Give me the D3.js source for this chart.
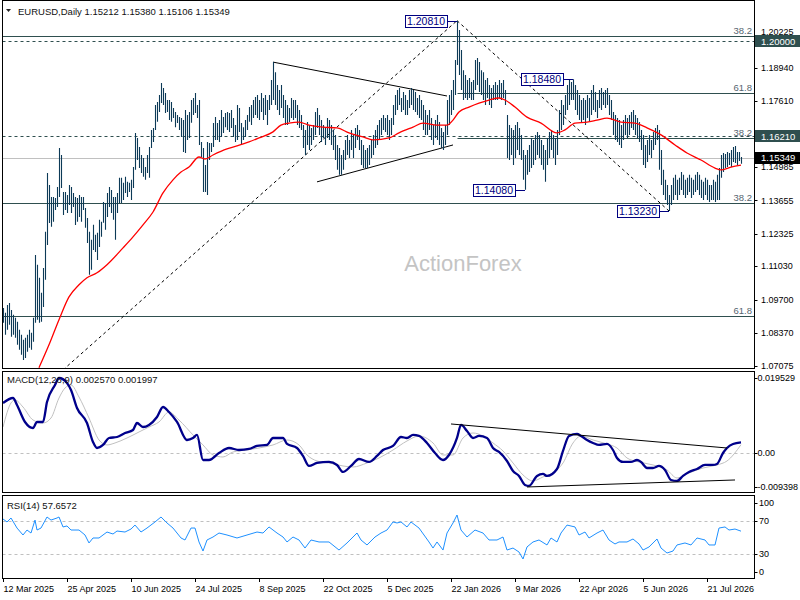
<!DOCTYPE html>
<html lang="en">

<head>
	<meta charset="UTF-8">
	<script src="https://cdn.jsdelivr.net/npm/d3@7"></script>
	<title>EURUSD Daily</title>
	<style>
		body {
			margin: 0;
			background: #fff;
		}

		text {
			font-family: "Liberation Sans", Arial, sans-serif;
		}
	</style>
</head>

<body>
	<svg id="chart" width="800" height="600"></svg>

	<script>
		// daily bar highs and lows, first bar 12 Mar 2025
		const highs = [
			1.0937, 1.0918, 1.0949, 1.0957, 1.0929, 1.0910, 1.0898, 1.0882, 1.0850, 1.0830, 1.0810, 1.0818, 1.0830, 1.0850, 1.0838, 1.0898,
			1.1148, 1.1109, 1.1057, 1.0997, 1.1096, 1.1240, 1.1474, 1.1427, 1.1379, 1.1379,
			1.1375, 1.1419, 1.1574, 1.1546, 1.1399, 1.1399, 1.1387, 1.1427, 1.1419, 1.1395,
			1.1379, 1.1375, 1.1387, 1.1379, 1.1379, 1.1335, 1.1295, 1.1240, 1.1208, 1.1268,
			1.1228, 1.1236, 1.1288, 1.1280, 1.1359, 1.1355, 1.1395, 1.1419, 1.1407, 1.1379,
			1.1379, 1.1395, 1.1455, 1.1455, 1.1435, 1.1459, 1.1439, 1.1435, 1.1447, 1.1498,
			1.1634, 1.1614, 1.1578, 1.1546, 1.1534, 1.1498, 1.1546, 1.1578, 1.1646, 1.1654,
			1.1745, 1.1757, 1.1785, 1.1833, 1.1813, 1.1793, 1.1765, 1.1765, 1.1757, 1.1733,
			1.1717, 1.1705, 1.1697, 1.1693, 1.1685, 1.1725, 1.1705, 1.1717, 1.1765, 1.1773,
			1.1793, 1.1745, 1.1765, 1.1598, 1.1574, 1.1506, 1.1598, 1.1594, 1.1594, 1.1673,
			1.1697, 1.1673, 1.1685, 1.1725, 1.1697, 1.1713, 1.1717, 1.1713, 1.1725, 1.1693,
			1.1665, 1.1745, 1.1733, 1.1673, 1.1657, 1.1685, 1.1705, 1.1737,
			1.1745, 1.1765, 1.1777, 1.1785, 1.1765, 1.1793, 1.1773, 1.1785, 1.1765, 1.1785,
			1.1845, 1.1916, 1.1876, 1.1825, 1.1805, 1.1825, 1.1785, 1.1765, 1.1745, 1.1733,
			1.1773, 1.1765, 1.1765, 1.1745, 1.1725, 1.1705, 1.1665, 1.1646, 1.1677, 1.1665,
			1.1654, 1.1665, 1.1717, 1.1733, 1.1705, 1.1685, 1.1665, 1.1654, 1.1693, 1.1685,
			1.1665, 1.1646, 1.1626, 1.1586, 1.1574, 1.1546, 1.1566, 1.1606, 1.1626, 1.1606,
			1.1646, 1.1626, 1.1654, 1.1665, 1.1646, 1.1606, 1.1586, 1.1566, 1.1574, 1.1586,
			1.1606, 1.1626, 1.1646, 1.1665, 1.1685, 1.1693, 1.1705, 1.1693, 1.1705, 1.1685,
			1.1693, 1.1745, 1.1785, 1.1805, 1.1813, 1.1773, 1.1797, 1.1785, 1.1765, 1.1805,
			1.1813, 1.1805, 1.1797, 1.1773, 1.1785, 1.1765, 1.1745, 1.1725, 1.1705, 1.1725,
			1.1693, 1.1665, 1.1685, 1.1705, 1.1677, 1.1654, 1.1638, 1.1665, 1.1765, 1.1785,
			1.1805, 1.1845, 1.1924, 1.2081, 1.2044, 1.1964, 1.1884, 1.1865, 1.1845, 1.1853,
			1.1837, 1.1845, 1.1924, 1.1932, 1.1916, 1.1884, 1.1876, 1.1845, 1.1853, 1.1825,
			1.1813, 1.1825, 1.1837, 1.1825, 1.1845,
			1.1833, 1.1845, 1.1805, 1.1705, 1.1665, 1.1654, 1.1646, 1.1665, 1.1677, 1.1654,
			1.1626, 1.1566, 1.1546, 1.1566, 1.1586, 1.1614, 1.1606, 1.1626, 1.1638, 1.1626,
			1.1606, 1.1586, 1.1566, 1.1614, 1.1638, 1.1646, 1.1626, 1.1614, 1.1646, 1.1725,
			1.1765, 1.1745, 1.1785, 1.1825, 1.1845, 1.1837, 1.1848, 1.1825, 1.1805, 1.1785,
			1.1765, 1.1773, 1.1765, 1.1785, 1.1773, 1.1805, 1.1825, 1.1797, 1.1765, 1.1805,
			1.1813, 1.1797, 1.1805, 1.1813, 1.1785, 1.1765, 1.1717, 1.1705, 1.1693, 1.1685,
			1.1665, 1.1685, 1.1705, 1.1693, 1.1705, 1.1717, 1.1725, 1.1705, 1.1693, 1.1677,
			1.1646, 1.1626, 1.1586, 1.1606, 1.1626, 1.1606, 1.1638, 1.1654, 1.1665, 1.1646,
			1.1566, 1.1487, 1.1447, 1.1427, 1.1387, 1.1427, 1.1455, 1.1467, 1.1447, 1.1455,
			1.1478, 1.1467, 1.1447, 1.1455, 1.1467, 1.1455, 1.1447, 1.1467, 1.1478, 1.1467,
			1.1447, 1.1439, 1.1455, 1.1447, 1.1427, 1.1427, 1.1447, 1.1439, 1.1467, 1.1494,
			1.1546, 1.1554, 1.1550, 1.1558, 1.1554, 1.1566, 1.1578, 1.1582, 1.1558, 1.1558, 1.1538
		];
		const lows = [
			1.0878, 1.0830, 1.0850, 1.0870, 1.0822, 1.0830, 1.0818, 1.0790, 1.0770, 1.0750, 1.0730, 1.0738, 1.0762, 1.0778, 1.0770, 1.0802,
			1.0878, 1.0890, 1.0878, 1.0882, 1.0941, 1.1049, 1.1188, 1.1275, 1.1260, 1.1280,
			1.1327, 1.1339, 1.1379, 1.1415, 1.1307, 1.1327, 1.1315, 1.1347, 1.1315, 1.1339,
			1.1267, 1.1280, 1.1299, 1.1280, 1.1327, 1.1256, 1.1196, 1.1069, 1.1089, 1.1168,
			1.1160, 1.1128, 1.1180, 1.1220, 1.1276, 1.1248, 1.1299, 1.1339, 1.1315, 1.1288,
			1.1208, 1.1315, 1.1355, 1.1355, 1.1367, 1.1395, 1.1379, 1.1399, 1.1367, 1.1415,
			1.1487, 1.1526, 1.1494, 1.1474, 1.1459, 1.1447, 1.1474, 1.1455, 1.1574, 1.1598,
			1.1646, 1.1678, 1.1717, 1.1753, 1.1745, 1.1713, 1.1717, 1.1685, 1.1678, 1.1693,
			1.1657, 1.1673, 1.1646, 1.1618, 1.1558, 1.1554, 1.1606, 1.1614, 1.1674, 1.1705,
			1.1713, 1.1693, 1.1586, 1.1538, 1.1399, 1.1399, 1.1387, 1.1526, 1.1558, 1.1578,
			1.1606, 1.1606, 1.1598, 1.1618, 1.1634, 1.1657, 1.1646, 1.1638, 1.1654, 1.1618,
			1.1598, 1.1606, 1.1638, 1.1586, 1.1606, 1.1618, 1.1646, 1.1678,
			1.1665, 1.1693, 1.1705, 1.1693, 1.1685, 1.1717, 1.1685, 1.1705, 1.1665, 1.1725,
			1.1745, 1.1765, 1.1745, 1.1725, 1.1705, 1.1733, 1.1693, 1.1665, 1.1665, 1.1677,
			1.1693, 1.1685, 1.1693, 1.1665, 1.1654, 1.1646, 1.1574, 1.1546, 1.1586, 1.1566,
			1.1586, 1.1606, 1.1626, 1.1654, 1.1626, 1.1598, 1.1614, 1.1586, 1.1614, 1.1606,
			1.1586, 1.1566, 1.1526, 1.1487, 1.1467, 1.1467, 1.1487, 1.1526, 1.1546, 1.1534,
			1.1566, 1.1534, 1.1574, 1.1606, 1.1566, 1.1506, 1.1494, 1.1494, 1.1494, 1.1506,
			1.1534, 1.1546, 1.1574, 1.1586, 1.1606, 1.1626, 1.1646, 1.1638, 1.1626, 1.1606,
			1.1626, 1.1665, 1.1705, 1.1725, 1.1745, 1.1717, 1.1725, 1.1705, 1.1705, 1.1733,
			1.1745, 1.1725, 1.1717, 1.1705, 1.1693, 1.1685, 1.1646, 1.1626, 1.1626, 1.1646,
			1.1606, 1.1586, 1.1614, 1.1606, 1.1586, 1.1574, 1.1566, 1.1586, 1.1626, 1.1665,
			1.1705, 1.1725, 1.1785, 1.1904, 1.1865, 1.1805, 1.1765, 1.1773, 1.1765, 1.1773,
			1.1765, 1.1765, 1.1805, 1.1825, 1.1797, 1.1785, 1.1765, 1.1745, 1.1773, 1.1745,
			1.1733, 1.1765, 1.1765, 1.1765, 1.1773,
			1.1765, 1.1773, 1.1745, 1.1534, 1.1526, 1.1546, 1.1506, 1.1534, 1.1566, 1.1546,
			1.1526, 1.1447, 1.1408, 1.1467, 1.1478, 1.1494, 1.1506, 1.1526, 1.1546, 1.1534,
			1.1506, 1.1487, 1.1439, 1.1506, 1.1534, 1.1566, 1.1534, 1.1506, 1.1546, 1.1626,
			1.1646, 1.1665, 1.1705, 1.1725, 1.1745, 1.1765, 1.1765, 1.1725, 1.1705, 1.1685,
			1.1677, 1.1685, 1.1665, 1.1693, 1.1677, 1.1705, 1.1725, 1.1717, 1.1693, 1.1733,
			1.1725, 1.1745, 1.1733, 1.1745, 1.1705, 1.1685, 1.1626, 1.1606, 1.1598, 1.1586,
			1.1574, 1.1606, 1.1626, 1.1614, 1.1626, 1.1654, 1.1646, 1.1626, 1.1614, 1.1598,
			1.1566, 1.1506, 1.1494, 1.1518, 1.1546, 1.1534, 1.1566, 1.1586, 1.1606, 1.1487,
			1.1427, 1.1387, 1.1367, 1.1347, 1.1323, 1.1347, 1.1367, 1.1387, 1.1367, 1.1387,
			1.1407, 1.1387, 1.1375, 1.1387, 1.1399, 1.1375, 1.1387, 1.1399, 1.1407, 1.1387,
			1.1375, 1.1367, 1.1387, 1.1367, 1.1359, 1.1367, 1.1367, 1.1359, 1.1367, 1.1367,
			1.1455, 1.1478, 1.1494, 1.1498, 1.1506, 1.1498, 1.1518, 1.1514, 1.1506, 1.1522, 1.1511
		];
		// red moving average, [bar, price]
		const maPts = [
			[18, 1.0699], [23, 1.0790], [28, 1.0890], [33, 1.0981], [38, 1.1029], [42, 1.1057], [47, 1.1077],
			[52, 1.1109], [60, 1.1176], [65, 1.1220], [70, 1.1268], [75, 1.1319], [80, 1.1395], [85, 1.1447],
			[89, 1.1478], [93, 1.1498], [98, 1.1538], [101, 1.1530], [105, 1.1546], [112, 1.1570], [117, 1.1582],
			[123, 1.1598], [128, 1.1614], [135, 1.1638], [139, 1.1665], [143, 1.1673], [148, 1.1677], [153, 1.1665],
			[160, 1.1657], [167, 1.1654], [173, 1.1634], [180, 1.1618], [185, 1.1606], [193, 1.1614], [198, 1.1634],
			[205, 1.1657], [210, 1.1673], [217, 1.1665], [222, 1.1665], [225, 1.1685], [228, 1.1717], [233, 1.1737],
			[238, 1.1753], [243, 1.1765], [248, 1.1773], [251, 1.1765], [256, 1.1737], [262, 1.1697], [269, 1.1673],
			[277, 1.1634], [281, 1.1646], [286, 1.1673], [292, 1.1677], [297, 1.1685], [302, 1.1693], [309, 1.1677],
			[316, 1.1673], [322, 1.1654], [329, 1.1626], [336, 1.1586], [342, 1.1554], [349, 1.1526], [356, 1.1494],
			[359, 1.1487], [364, 1.1498], [369, 1.1506]
		];
		// MACD(12,26,9) main and signal, [bar, value]
		const macdPts = [
			[0, 0.01206], [5, 0.01326], [7, 0.01158], [11, 0.00748], [15, 0.00603], [17, 0.00748], [20, 0.00748],
			[22, 0.01230], [26, 0.01640], [28, 0.01808], [32, 0.01688], [34, 0.01519], [37, 0.01085], [42, 0.00724],
			[45, 0.00266], [47, 0.00121], [50, 0.00194], [53, 0.00362], [57, 0.00386], [61, 0.00483], [65, 0.00555],
			[67, 0.00724], [70, 0.00627], [73, 0.00676], [77, 0.00868], [80, 0.01109], [83, 0.00989], [87, 0.00748],
			[92, 0.00314], [95, 0.00362], [97, 0.00435], [100, -0.00168], [103, -0.00168], [108, 0.00000], [113, 0.00121],
			[118, 0.00073], [123, 0.00097], [127, 0.00170], [132, 0.00194], [135, 0.00362], [140, 0.00362], [142, 0.00218],
			[147, 0.00121], [150, -0.00071], [153, -0.00312], [157, -0.00240], [163, -0.00216], [167, -0.00288],
			[170, -0.00457], [174, -0.00312], [178, -0.00144], [183, -0.00216], [187, -0.00071], [190, 0.00073],
			[195, 0.00170], [199, 0.00386], [202, 0.00362], [205, 0.00435], [208, 0.00411], [212, 0.00242], [216, 0.00000],
			[220, -0.00168], [223, -0.00047], [227, 0.00362], [229, 0.00676], [232, 0.00531], [235, 0.00362], [238, 0.00411],
			[242, 0.00362], [245, 0.00121], [248, 0.00025], [252, -0.00192], [255, -0.00433], [258, -0.00553], [261, -0.00770],
			[263, -0.00794], [267, -0.00553], [270, -0.00505], [272, -0.00553], [277, -0.00385], [280, 0.00049], [283, 0.00411],
			[287, 0.00459], [289, 0.00411], [292, 0.00314], [295, 0.00242], [298, 0.00194], [302, 0.00218], [305, 0.00073],
			[307, -0.00120], [310, -0.00216], [314, -0.00216], [317, -0.00168], [319, -0.00216], [322, -0.00361], [325, -0.00361],
			[328, -0.00312], [331, -0.00409], [334, -0.00650], [337, -0.00674], [340, -0.00553], [343, -0.00457], [347, -0.00385],
			[351, -0.00288], [355, -0.00288], [357, -0.00264], [360, 0.00000], [362, 0.00121], [365, 0.00218], [369, 0.00257]
		];
		const signalPts = [
			[0, 0.00627], [4, 0.01206], [6, 0.01278], [10, 0.01109], [15, 0.00796], [20, 0.00724], [24, 0.00844],
			[28, 0.01326], [31, 0.01567], [34, 0.01640], [38, 0.01350], [43, 0.00844], [48, 0.00314], [52, 0.00194],
			[56, 0.00242], [62, 0.00362], [68, 0.00507], [73, 0.00627], [78, 0.00748], [83, 0.00989], [88, 0.00796],
			[95, 0.00435], [100, 0.00194], [105, -0.00047], [110, -0.00096], [115, 0.00025], [122, 0.00073], [128, 0.00121],
			[135, 0.00194], [142, 0.00314], [148, 0.00194], [152, -0.00047], [157, -0.00192], [163, -0.00240], [170, -0.00312],
			[175, -0.00337], [182, -0.00240], [188, -0.00120], [195, 0.00073], [202, 0.00290], [208, 0.00411], [215, 0.00242],
			[220, -0.00047], [225, -0.00047], [230, 0.00362], [235, 0.00483], [240, 0.00411], [245, 0.00242], [250, 0.00049],
			[255, -0.00240], [260, -0.00529], [265, -0.00674], [270, -0.00577], [275, -0.00481], [280, -0.00240], [285, 0.00242],
			[289, 0.00411], [295, 0.00314], [302, 0.00218], [307, 0.00121], [312, -0.00120], [318, -0.00216], [325, -0.00288],
			[332, -0.00409], [337, -0.00602], [343, -0.00481], [350, -0.00361], [357, -0.00288], [362, -0.00192], [369, 0.001997]
		];
		// RSI(14), [bar, value]
		const rsiPts = [
			[0, 72.3], [2, 68.7], [4, 73.5], [7, 61.4], [10, 53.0], [12, 59.0], [14, 55.4], [16, 71.0], [17, 59.0], [19, 61.4],
			[22, 74.7], [24, 71.0], [27, 73.5], [28, 74.7], [30, 62.7], [32, 63.9], [34, 59.0], [38, 59.0], [41, 53.0], [43, 43.4],
			[45, 49.4], [48, 49.4], [52, 56.6], [55, 54.2], [57, 57.8], [61, 56.6], [64, 60.2], [66, 65.0], [69, 56.6], [72, 61.4],
			[76, 68.7], [79, 74.7], [82, 67.5], [85, 61.4], [89, 49.4], [91, 47.0], [94, 61.4], [96, 61.4], [98, 44.6], [100, 33.7],
			[102, 47.0], [105, 50.6], [108, 55.4], [112, 53.0], [117, 49.4], [122, 53.0], [127, 56.6], [130, 55.4], [133, 62.7],
			[137, 55.4], [140, 50.6], [142, 44.6], [145, 50.6], [148, 47.0], [151, 37.3], [154, 47.0], [158, 44.6], [163, 44.6],
			[168, 34.9], [172, 43.4], [177, 55.4], [179, 47.0], [182, 41.0], [186, 50.6], [189, 55.4], [192, 59.0], [195, 68.7],
			[197, 67.5], [199, 68.7], [202, 62.7], [204, 68.7], [208, 61.4], [213, 44.6], [215, 37.3], [217, 44.6], [220, 34.9],
			[222, 55.4], [225, 67.5], [227, 77.1], [229, 59.0], [232, 50.6], [236, 59.0], [240, 55.4], [243, 47.0], [247, 47.0],
			[250, 50.6], [252, 34.9], [255, 37.3], [258, 32.5], [260, 24.1], [262, 38.6], [265, 44.6], [268, 47.0], [272, 41.0],
			[274, 49.4], [277, 44.6], [279, 55.4], [282, 65.0], [286, 62.7], [288, 53.0], [291, 56.6], [293, 49.4], [297, 55.4],
			[300, 59.0], [303, 47.0], [306, 42.2], [308, 44.6], [312, 44.6], [315, 48.2], [318, 42.2], [320, 34.9], [323, 38.6],
			[327, 48.2], [329, 37.3], [332, 31.3], [335, 33.7], [337, 41.0], [341, 43.4], [344, 41.0], [347, 49.4], [351, 47.0],
			[353, 41.0], [356, 41.0], [358, 61.4], [361, 62.7], [363, 59.0], [366, 60.2], [369, 57.66]
		];

		// axis labels
		const priceTicks = [1.20225, 1.18940, 1.17610, 1.14985, 1.13655, 1.12325, 1.11030, 1.09700, 1.08370, 1.07075];
		const dateTickBars = [0, 32, 64, 96, 128, 160, 192, 224, 256, 288, 320, 352];
		const dateTickLabels = ["12 Mar 2025", "25 Apr 2025", "10 Jun 2025", "24 Jul 2025", "8 Sep 2025", "22 Oct 2025",
			"5 Dec 2025", "22 Jan 2026", "9 Mar 2026", "22 Apr 2026", "5 Jun 2026", "21 Jul 2026"];

		// drawn objects
		const fibLevels = [[1.2020, 0, "38.2"], [1.1793, 227, "61.8"], [1.1614, 227, "38.2"], [1.1355, 0, "38.2"], [1.0905, 0, "61.8"]];
		const dashLevels = [1.2000, 1.1621];
		const lastClose = 1.15349;
		const trendLines = [[[135, 1.1916], [222, 1.1781]], [[157, 1.1439], [225, 1.1586]]];
		const dashTrendLines = [[[30, 1.0690], [227, 1.2081]], [[227, 1.2081], [333, 1.1323]]];
		const swingLabels = [[227, 1.2081, "1.20810"], [285, 1.1848, "1.18480"], [261, 1.1408, "1.14080"], [333, 1.1323, "1.13230"]];
		const macdLines = [[[224, 0.0070], [362, 0.00121]], [[262, -0.00819], [366, -0.0065]]];

		/*-------------------------------------------------------*/
		/*------------------------ Scales -----------------------*/
		/*-------------------------------------------------------*/
		const left = 2.5, right = 754.5;
		const x = d3.scaleLinear().domain([0, 369]).range([3, 741]);
		const y = d3.scaleLinear().domain([1.06977, 1.21633]).range([368, 0]);
		const yM = d3.scaleLinear().domain([-0.009398, 0.019529]).range([492, 372]);
		const yR = d3.scaleLinear().domain([0, 100]).range([579, 496]);
		const px = v => Math.round(v) + 0.5;

		const svg = d3.select("#chart");
		svg.append("rect").attr("width", 800).attr("height", 600).attr("fill", "#fff");

		const defs = svg.append("defs");
		const clip = (id, top, bottom) => defs.append("clipPath").attr("id", id)
			.append("rect").attr("x", left).attr("y", top).attr("width", right - left).attr("height", bottom - top);
		clip("cMain", 0.5, 368.5);
		clip("cMacd", 371.5, 492.5);
		clip("cRsi", 495.5, 578.5);

		const gMain = svg.append("g").attr("clip-path", "url(#cMain)");
		const gMacd = svg.append("g").attr("clip-path", "url(#cMacd)");
		const gRsi = svg.append("g").attr("clip-path", "url(#cRsi)");

		const hline = (g, yy, x0, color, dash) => g.append("line")
			.attr("x1", x0).attr("x2", right).attr("y1", px(yy)).attr("y2", px(yy))
			.attr("stroke", color).attr("stroke-width", 1).attr("stroke-dasharray", dash || null);

		/*-------------------------------------------------------*/
		/*--------------------- Main window ---------------------*/
		/*-------------------------------------------------------*/
		gMain.append("text").attr("x", 463).attr("y", 271).attr("text-anchor", "middle")
			.attr("font-size", 22).attr("fill", "#c4c4c4").text("ActionForex");

		hline(gMain, y(lastClose), left, "#c0c0c0");
		dashLevels.forEach(p => hline(gMain, y(p), left, "#2f4f4f", "3,3"));
		fibLevels.forEach(f => {
			hline(gMain, y(f[0]), f[1] === 0 ? left : px(x(f[1])), "#2f4f4f");
			gMain.append("text").attr("x", 752).attr("y", px(y(f[0])) - 2.5).attr("text-anchor", "end")
				.attr("font-size", 9.5).attr("fill", "#56656f").text(f[2]);
		});

		const seg = d3.line().x(d => x(d[0])).y(d => y(d[1]));
		trendLines.forEach(t => gMain.append("path").attr("d", seg(t)).attr("stroke", "#000").attr("fill", "none"));
		dashTrendLines.forEach(t => gMain.append("path").attr("d", seg(t)).attr("stroke", "#000")
			.attr("stroke-dasharray", "3,3").attr("fill", "none"));

		gMain.selectAll("line.bar")
			.data(d3.range(highs.length))
			.enter()
			.append("line")
			.attr("class", "bar")
			.attr("x1", i => px(x(i))).attr("x2", i => px(x(i)))
			.attr("y1", i => y(highs[i])).attr("y2", i => y(lows[i]))
			.attr("stroke", "#0d3a57").attr("stroke-width", 1.1);

		gMain.append("path")
			.attr("d", d3.line().x(d => x(d[0])).y(d => y(d[1])).curve(d3.curveMonotoneX)(maPts))
			.attr("stroke", "#ff0000").attr("stroke-width", 1.3).attr("fill", "none");

		swingLabels.forEach(s => {
			const bx = x(s[0]) - 10, by = y(s[1]);
			gMain.append("line").attr("x1", bx).attr("x2", x(s[0])).attr("y1", px(by)).attr("y2", px(by))
				.attr("stroke", "#000080");
			gMain.append("rect").attr("x", px(bx - 42)).attr("y", px(by - 6)).attr("width", 42).attr("height", 12)
				.attr("fill", "#fff").attr("stroke", "#000080");
			gMain.append("text").attr("x", bx - 21).attr("y", by + 4).attr("text-anchor", "middle")
				.attr("font-size", 10.5).attr("fill", "#000080").text(s[2]);
		});

		// header
		svg.append("path").attr("d", "M6,9 L11,9 L8.5,12 Z").attr("fill", "#222");
		svg.append("text").attr("x", 18).attr("y", 14.5).attr("font-size", 9.5).attr("fill", "#111")
			.text("EURUSD,Daily  1.15212 1.15380 1.15106 1.15349");

		/*-------------------------------------------------------*/
		/*------------------------ MACD -------------------------*/
		/*-------------------------------------------------------*/
		hline(gMacd, yM(0), left, "#c0c0c0", "3,3");
		const mline = d3.line().x(d => x(d[0])).y(d => yM(d[1])).curve(d3.curveMonotoneX);
		gMacd.append("path").attr("d", mline(signalPts)).attr("stroke", "#c0c0c0").attr("fill", "none");
		gMacd.append("path").attr("d", mline(macdPts)).attr("stroke", "#00008b").attr("stroke-width", 2.3).attr("fill", "none");
		macdLines.forEach(t => gMacd.append("path")
			.attr("d", d3.line().x(d => x(d[0])).y(d => yM(d[1]))(t)).attr("stroke", "#000").attr("fill", "none"));
		svg.append("text").attr("x", 7).attr("y", 383).attr("font-size", 9.5).attr("fill", "#111")
			.text("MACD(12,26,9) 0.002570 0.001997");

		/*-------------------------------------------------------*/
		/*------------------------- RSI -------------------------*/
		/*-------------------------------------------------------*/
		[70, 30].forEach(v => hline(gRsi, yR(v), left, "#c0c0c0", "3,3"));
		gRsi.append("path").attr("d", d3.line().x(d => x(d[0])).y(d => yR(d[1]))(rsiPts))
			.attr("stroke", "#1e90ff").attr("stroke-width", 1).attr("fill", "none");
		svg.append("text").attr("x", 7).attr("y", 509).attr("font-size", 9.5).attr("fill", "#111")
			.text("RSI(14) 57.6572");

		/*-------------------------------------------------------*/
		/*------------------------ Frames -----------------------*/
		/*-------------------------------------------------------*/
		[[0.5, 368.5], [371.5, 492.5], [495.5, 578.5]].forEach(p => svg.append("rect")
			.attr("x", left).attr("y", p[0]).attr("width", right - left).attr("height", p[1] - p[0])
			.attr("fill", "none").attr("stroke", "#000").attr("stroke-width", 1));

		/*-------------------------------------------------------*/
		/*------------------------- Axes ------------------------*/
		/*-------------------------------------------------------*/
		const axisText = (xx, yy, t) => svg.append("text").attr("x", xx).attr("y", yy + 3.2)
			.attr("font-size", 9).attr("fill", "#000").text(t);
		const rtick = yy => svg.append("line").attr("x1", right).attr("x2", right + 3)
			.attr("y1", px(yy)).attr("y2", px(yy)).attr("stroke", "#000");

		// the top label sits just above the 1.20000 box, as in the terminal
		priceTicks.forEach((p, k) => { rtick(y(p)); axisText(761, k === 0 ? y(p) - 4 : y(p), p.toFixed(5)); });

		const priceBox = (p, fill, t) => {
			svg.append("rect").attr("x", 755).attr("y", px(y(p)) - 6.5).attr("width", 45).attr("height", 12).attr("fill", fill);
			svg.append("text").attr("x", 761).attr("y", y(p) + 3.5).attr("font-size", 9.5).attr("fill", "#fff").text(t);
		};
		priceBox(1.2000, "#2f4f4f", "1.20000");
		priceBox(1.1621, "#2f4f4f", "1.16210");
		priceBox(lastClose, "#000", "1.15349");

		[[0.019529, 377.5], [0, yM(0)], [-0.009398, 486.5]].forEach(m => {
			rtick(m[1]);
			axisText(757.5, m[1], m[0] === 0 ? "0.00" : m[0].toFixed(6));
		});
		[[100, 502.5], [70, yR(70)], [30, yR(30)], [0, 572]].forEach(r => {
			rtick(r[1]);
			axisText(759, r[1], String(r[0]));
		});

		dateTickBars.forEach((b, k) => {
			svg.append("line").attr("x1", px(x(b))).attr("x2", px(x(b))).attr("y1", 578.5).attr("y2", 582)
				.attr("stroke", "#000");
			svg.append("text").attr("x", x(b) + 0.5).attr("y", 592).attr("font-size", 9).attr("fill", "#000")
				.text(dateTickLabels[k]);
		});
	</script>
</body>

</html>
